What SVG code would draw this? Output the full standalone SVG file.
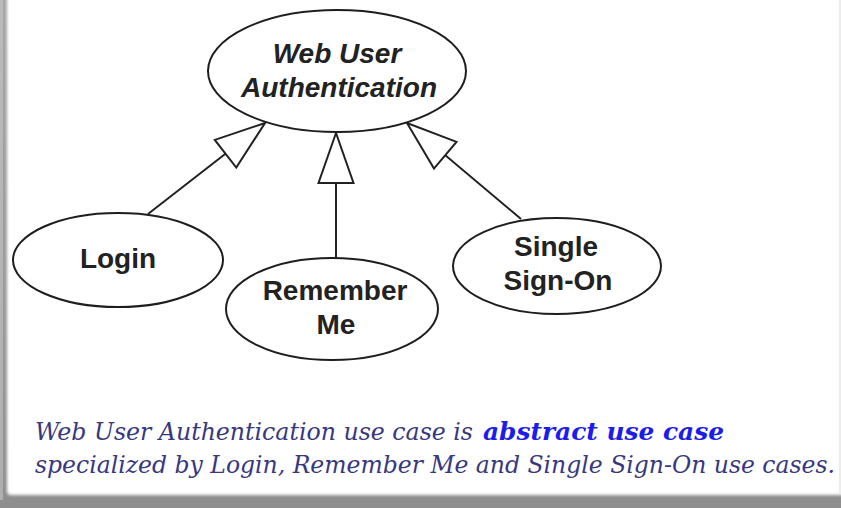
<svg xmlns="http://www.w3.org/2000/svg" width="841" height="508" viewBox="0 0 841 508">
  <defs>
    <style>
      .uc { fill: #ffffff; stroke: #1e1e1e; stroke-width: 2; }
      .lbl { font-family: "Liberation Sans", Arial, sans-serif; font-size: 28px; font-weight: bold; fill: #222222; text-anchor: middle; }
      .abs { font-style: italic; }
      .edge { stroke: #222222; stroke-width: 2; fill: none; marker-end: url(#gen); }
      .cap { font-family: "DejaVu Serif", "Liberation Serif", serif; font-size: 23px; font-style: italic; }
      .cap-n { fill: #38387e; }
      .cap-b { fill: #1c1ced; font-weight: bold; }
    </style>
    <!-- hollow generalization arrowhead -->
    <marker id="gen" markerUnits="userSpaceOnUse" markerWidth="60" markerHeight="40" viewBox="-52 -20 54 40" refX="0" refY="0" orient="auto">
      <path d="M0,0 L-50,-17.5 L-50,17.5 Z" fill="#ffffff" stroke="#222222" stroke-width="2" stroke-linejoin="miter"/>
    </marker>
    <filter id="soft" x="-5%" y="-5%" width="110%" height="110%">
      <feGaussianBlur stdDeviation="1.6"/>
    </filter>
    <linearGradient id="frameShade" x1="0" y1="0" x2="0" y2="1">
      <stop offset="0" stop-color="#a6a6a6"/>
      <stop offset="1" stop-color="#8e8e8e"/>
    </linearGradient>
  </defs>

  <!-- framed panel -->
  <rect x="0" y="0" width="841" height="508" fill="url(#frameShade)"/>
  <rect x="0" y="0" width="3" height="500" fill="#d0d0d0" opacity="0.5"/>
  <rect x="7" y="-20" width="840" height="515" rx="4" fill="#ffffff" filter="url(#soft)"/>
  <rect x="9" y="-10" width="840" height="500" fill="#ffffff"/>
  <rect x="839" y="0" width="2" height="494" fill="#ececec"/>

  <!-- connectors -->
  <g id="connectors">
    <line class="edge" x1="148" y1="214" x2="265" y2="123"/>
    <line class="edge" x1="336" y1="259" x2="336" y2="133"/>
    <line class="edge" x1="521" y1="219" x2="407" y2="123"/>
  </g>

  <!-- use cases -->
  <g id="web-user-authentication">
    <ellipse class="uc" cx="337" cy="71" rx="129" ry="61"/>
    <text class="lbl abs" x="337" y="63">Web User</text>
    <text class="lbl abs" x="339" y="97">Authentication</text>
  </g>

  <g id="login">
    <ellipse class="uc" cx="118" cy="260" rx="105" ry="47"/>
    <text class="lbl" x="118" y="268">Login</text>
  </g>

  <g id="remember-me">
    <ellipse class="uc" cx="332" cy="309" rx="106" ry="51"/>
    <text class="lbl" x="335" y="300">Remember</text>
    <text class="lbl" x="336" y="334">Me</text>
  </g>

  <g id="single-sign-on">
    <ellipse class="uc" cx="557" cy="266" rx="104" ry="48"/>
    <text class="lbl" x="556" y="256">Single</text>
    <text class="lbl" x="558" y="290">Sign-On</text>
  </g>

  <!-- caption, stretched slightly taller about y=456 -->
  <g id="caption" class="cap" transform="translate(0,456) scale(1,1.087) translate(0,-456)">
    <text class="cap-n" x="35" y="441.3" textLength="438" lengthAdjust="spacingAndGlyphs">Web User Authentication use case is</text>
    <text class="cap-b" x="483" y="441.3" textLength="241" lengthAdjust="spacingAndGlyphs">abstract use case</text>
    <text class="cap-n" x="35" y="471.6" textLength="800" lengthAdjust="spacingAndGlyphs">specialized by Login, Remember Me and Single Sign-On use cases.</text>
  </g>
</svg>
